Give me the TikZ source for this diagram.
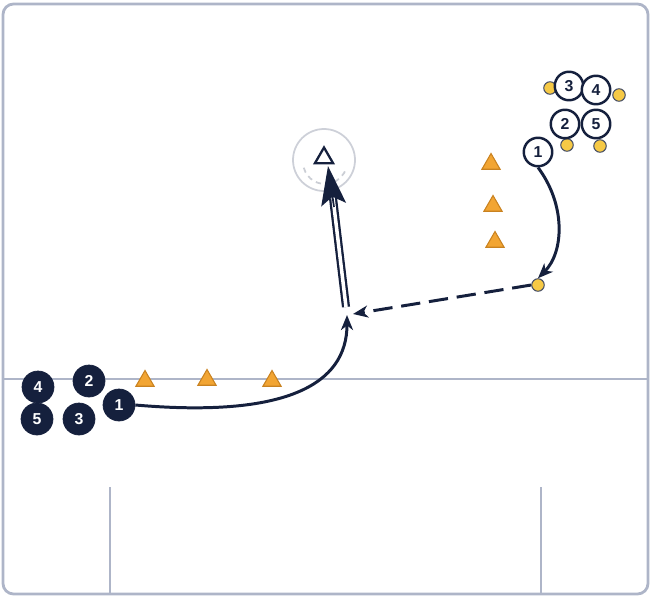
\documentclass[tikz,border=0pt]{standalone}
\usepackage{fontspec}
\setmainfont{Liberation Sans}
\usetikzlibrary{arrows.meta,shapes.geometric}

\definecolor{navy}{HTML}{15203D}
\definecolor{pitch}{HTML}{AEB5C8}
\definecolor{cone}{HTML}{F2A533}
\definecolor{conedge}{HTML}{C98220}
\definecolor{ball}{HTML}{F6C945}
\definecolor{goalgray}{HTML}{CDD0D8}

\tikzset{
  dark/.style={circle, fill=navy, draw=navy, text=white, minimum size=0.64cm,
    inner sep=0pt, font=\bfseries\small},
  light/.style={circle, fill=white, draw=navy, line width=1.4pt, text=navy,
    minimum size=0.57cm, inner sep=0pt, font=\bfseries\small},
  ballnode/.style={circle, fill=ball, draw=navy!80, line width=0.6pt,
    minimum size=0.25cm, inner sep=0pt},
  conenode/.style={regular polygon, regular polygon sides=3, fill=cone,
    draw=conedge, line width=0.6pt, minimum size=0.42cm, inner sep=0pt},
  run/.style={navy, line width=1.7pt,
    -{Stealth[length=0.3cm, width=0.24cm, inset=0.09cm]}},
  pass/.style={run, dash pattern=on 11pt off 5pt},
  shot/.style={navy, double=white, double distance=2pt, line width=1.3pt},
  shothead/.style={navy, line width=1pt,
    -{Stealth[length=0.78cm, width=0.5cm, inset=0.16cm]}},
}

\begin{document}
\begin{tikzpicture}[x=0.02cm, y=-0.02cm]
  \useasboundingbox (0,0) rectangle (652,598);

  % pitch
  \draw[pitch, line width=1.6pt, rounded corners=6pt] (3,4) rectangle (648,594);
  \draw[pitch, line width=1.1pt] (3,379) -- (648,379);
  \draw[pitch, line width=1.1pt] (110,487) -- (110,594);
  \draw[pitch, line width=1.1pt] (541,487) -- (541,594);

  % goal
  \node[circle, draw=goalgray, line width=1pt, minimum size=1.24cm] (goal) at (324,160) {};
  \draw[goalgray!80!navy!60, line width=1pt, dash pattern=on 3pt off 2.5pt]
    ([shift={(195:0.44cm)}]325,162) arc[start angle=195, end angle=345, radius=0.44cm];
  \node[regular polygon, regular polygon sides=3, draw=navy, fill=white,
    line width=1.3pt, minimum size=0.42cm, inner sep=0pt] (target) at (324,158) {};

  % cones
  \node[conenode] (c1) at (145,381) {};
  \node[conenode] (c2) at (207,380) {};
  \node[conenode] (c3) at (272,381) {};
  \node[conenode] (c4) at (491,164) {};
  \node[conenode] (c5) at (493,206) {};
  \node[conenode] (c6) at (495,242) {};

  % balls
  \node[ballnode] (b1) at (550,88) {};
  \node[ballnode] (b2) at (619,95) {};
  \node[ballnode] (b3) at (567,145) {};
  \node[ballnode] (b4) at (600,146) {};
  \node[ballnode] (b5) at (538,285) {};

  % attackers
  \node[dark] (d4) at (38,387) {4};
  \node[dark] (d5) at (37,419) {5};
  \node[dark] (d2) at (89,381) {2};
  \node[dark] (d3) at (79,419) {3};
  \node[dark] (d1) at (119,405) {1};

  % servers
  \node[light] (w3) at (569,86) {3};
  \node[light] (w4) at (596,90) {4};
  \node[light] (w2) at (565,124) {2};
  \node[light] (w5) at (596,124) {5};
  \node[light] (w1) at (538,152) {1};

  \coordinate (recv) at (347,315);
  \coordinate (shotstart) at (346,307);
  \coordinate (shotbase) at (333,198);
  \coordinate (headback) at (334,207);
  \coordinate (shottip) at (328,166);
  \coordinate (passend) at (353,314);

  % runs, pass and shot
  \draw[run] (d1.east) .. controls (285,418) and (347,385) .. (recv);
  \draw[run] (w1.south) .. controls (566,205) and (564,252) .. (b5.north);
  \draw[pass] (b5.west) -- (passend);
  \draw[shot] (shotstart) -- (shotbase);
  \draw[shothead] (headback) -- (shottip);
\end{tikzpicture}
\end{document}
